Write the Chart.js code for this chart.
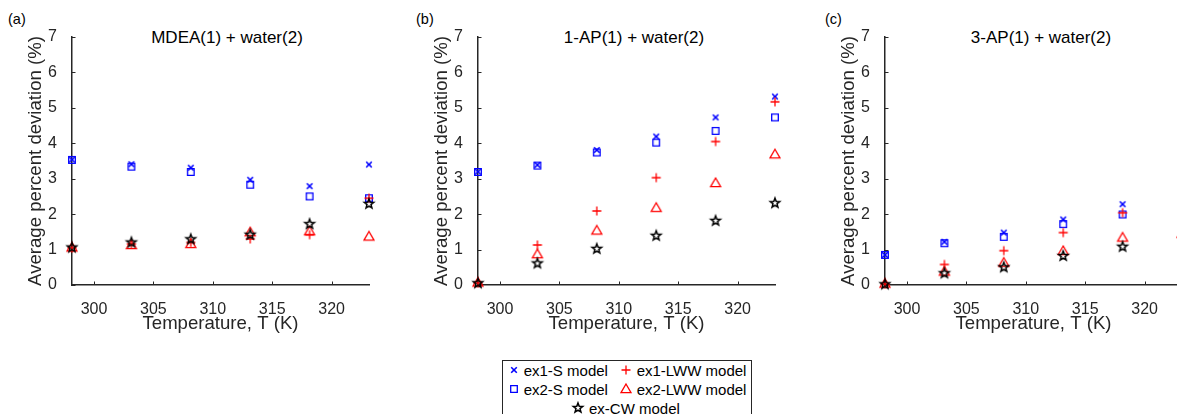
<!DOCTYPE html>
<html><head><meta charset="utf-8">
<script src="https://cdn.jsdelivr.net/npm/chart.js@4/dist/chart.umd.min.js"></script>
<style>
html,body{margin:0;padding:0;width:1177px;height:414px;overflow:hidden;background:#fff;font-family:"Liberation Sans",Arial,sans-serif;}
canvas.panel{position:absolute;top:0;}
.lbl{position:absolute;font-size:14.5px;color:#000;transform:translateY(-50%);white-space:nowrap;}
.ttl{position:absolute;font-size:17px;color:#000;transform:translate(-50%,-50%);white-space:nowrap;}
#legend{position:absolute;left:502px;top:360px;width:248px;height:70px;border:1px solid #262626;background:#fff;}
.li{position:absolute;font-size:15px;color:#000;white-space:nowrap;transform:translateY(-50%);}
.lm{position:absolute;transform:translate(-50%,-50%);}
</style></head>
<body>
<div class="lbl" style="left:8px;top:19px">(a)</div>
<div class="lbl" style="left:416px;top:19px">(b)</div>
<div class="lbl" style="left:825px;top:19px">(c)</div>
<div class="ttl" style="left:227px;top:38px">MDEA(1) + water(2)</div>
<div class="ttl" style="left:634px;top:38px">1-AP(1) + water(2)</div>
<div class="ttl" style="left:1041px;top:38px">3-AP(1) + water(2)</div>
<canvas id="ca" class="panel" width="390" height="340" style="left:0px"></canvas>
<canvas id="cb" class="panel" width="390" height="340" style="left:406px"></canvas>
<canvas id="cc" class="panel" width="390" height="340" style="left:813px"></canvas>
<div id="legend"></div>
<script>
// ---- data ----
const temps = [298.15, 303.15, 308.15, 313.15, 318.15, 323.15];
const xTicks = [300, 305, 310, 315, 320];
const yTicks = [0, 1, 2, 3, 4, 5, 6, 7];
const seriesNames = ['ex1-S model', 'ex2-S model', 'ex1-LWW model', 'ex2-LWW model', 'ex-CW model'];

// (a) MDEA(1) + water(2)
const a_ex1S  = [3.54, 3.41, 3.31, 2.97, 2.79, 3.40];
const a_ex2S  = [3.53, 3.34, 3.19, 2.83, 2.50, 2.45];
const a_ex1L  = [1.05, 1.16, 1.20, 1.30, 1.42, 2.45];
const a_ex2L  = [1.06, 1.13, 1.16, 1.49, 1.52, 1.37];
const a_exCW  = [1.06, 1.20, 1.29, 1.42, 1.72, 2.29];

// (b) 1-AP(1) + water(2)
const b_ex1S  = [3.20, 3.39, 3.81, 4.19, 4.73, 5.32];
const b_ex2S  = [3.19, 3.37, 3.74, 4.02, 4.35, 4.73];
const b_ex1L  = [0.06, 1.13, 2.09, 3.03, 4.05, 5.17];
const b_ex2L  = [0.07, 0.87, 1.54, 2.18, 2.88, 3.69];
const b_exCW  = [0.05, 0.61, 1.02, 1.39, 1.81, 2.31];

// (c) 3-AP(1) + water(2)
const c_ex1S  = [0.85, 1.22, 1.48, 1.85, 2.28, null];
const c_ex2S  = [0.85, 1.18, 1.36, 1.72, 1.99, null];
const c_ex1L  = [0.03, 0.58, 0.97, 1.48, 2.04, 1.57];
const c_ex2L  = [0.04, 0.38, 0.63, 0.96, 1.34, 1.45];
const c_exCW  = [0.02, 0.33, 0.50, 0.82, 1.08, null];

// ---- styling ----
const AX = '#262626';
const F = '"Liberation Sans", Arial, sans-serif';
const markerTypes = ['x', 'sq', '+', 'tri', 'star'];
const markerColors = ['#0000ff', '#0000ff', '#ff0000', '#ff0000', '#000000'];
const drawOrder = [5, 4, 3, 2, 1];

function makeMarker(type, color) {
  const c = document.createElement('canvas');
  c.width = 16; c.height = 16;
  const g = c.getContext('2d');
  g.strokeStyle = color; g.lineWidth = 1.3;
  g.translate(8, 8);
  g.beginPath();
  if (type === 'x') {
    g.lineWidth = 1.6;
    g.moveTo(-2.8, -2.8); g.lineTo(2.8, 2.8);
    g.moveTo(2.8, -2.8); g.lineTo(-2.8, 2.8);
  } else if (type === '+') {
    g.moveTo(-4.5, 0); g.lineTo(4.5, 0);
    g.moveTo(0, -4.5); g.lineTo(0, 4.5);
  } else if (type === 'sq') {
    g.rect(-3.3, -3.3, 6.6, 6.6);
  } else if (type === 'tri') {
    g.moveTo(0, -5); g.lineTo(5, 3.6); g.lineTo(-5, 3.6); g.closePath();
  } else if (type === 'star') {
    g.lineWidth = 1.5;
    for (let i = 0; i < 10; i++) {
      const r = i % 2 ? 2.1 : 5;
      const ang = -Math.PI / 2 + i * Math.PI / 5;
      const px = r * Math.cos(ang), py = r * Math.sin(ang);
      if (i) g.lineTo(px, py); else g.moveTo(px, py);
    }
    g.closePath();
  }
  g.stroke();
  return c;
}

const inTicks = {
  id: 'inTicks',
  beforeDatasetsDraw(chart) {
    const {ctx, chartArea, scales} = chart;
    ctx.save();
    ctx.strokeStyle = AX; ctx.lineWidth = 1;
    ctx.beginPath();
    xTicks.forEach(v => {
      const px = Math.round(scales.x.getPixelForValue(v)) + 0.5;
      ctx.moveTo(px, chartArea.bottom); ctx.lineTo(px, chartArea.bottom - 3.5);
    });
    yTicks.forEach(v => {
      const py = Math.round(scales.y.getPixelForValue(v)) + 0.5;
      ctx.moveTo(chartArea.left, py); ctx.lineTo(chartArea.left + 3.5, py);
    });
    ctx.stroke();
    ctx.restore();
  }
};

function makeChart(id, series) {
  const datasets = series.map((arr, k) => ({
    label: seriesNames[k],
    data: temps.map((t, i) => ({x: t, y: arr[i]})),
    pointStyle: makeMarker(markerTypes[k], markerColors[k]),
    pointRadius: 5,
    showLine: false,
    clip: false,
    order: drawOrder[k]
  }));
  new Chart(document.getElementById(id), {
    type: 'scatter',
    data: {datasets},
    options: {
      responsive: false, animation: false, devicePixelRatio: 1,
      layout: {padding: {top: 37, right: 21, left: 0, bottom: 0}},
      plugins: {legend: {display: false}, tooltip: {enabled: false}},
      scales: {
        x: {
          type: 'linear', min: 298.15, max: 323.15,
          afterBuildTicks: s => { s.ticks = xTicks.map(v => ({value: v})); },
          afterFit: s => { s.height = 55; },
          grid: {display: false},
          border: {display: true, color: AX, width: 1.5},
          ticks: {font: {size: 16, family: F}, color: AX, padding: 7, callback: v => String(v)},
          title: {display: true, text: 'Temperature, T (K)', font: {size: 18.6, family: F}, color: AX, padding: {top: 5, bottom: 5}}
        },
        y: {
          type: 'linear', min: 0, max: 7,
          afterBuildTicks: s => { s.ticks = yTicks.map(v => ({value: v})); },
          afterFit: s => { s.width = 72; },
          grid: {display: false},
          border: {display: true, color: AX, width: 1.5},
          ticks: {font: {size: 16, family: F}, color: AX, padding: 7, callback: v => String(v)},
          title: {display: true, text: 'Average percent deviation (%)', font: {size: 18.6, family: F}, color: AX, padding: {top: 25, bottom: 25}}
        }
      }
    },
    plugins: [inTicks]
  });
}

makeChart('ca', [a_ex1S, a_ex2S, a_ex1L, a_ex2L, a_exCW]);
makeChart('cb', [b_ex1S, b_ex2S, b_ex1L, b_ex2L, b_exCW]);
makeChart('cc', [c_ex1S, c_ex2S, c_ex1L, c_ex2L, c_exCW]);

// ---- legend ----
const legend = document.getElementById('legend');
const legendPos = [ // marker x, text x, row y (relative to legend box)
  [10.7, 20.7, 8.5], [10.7, 20.7, 27.5], [123, 133.7, 8.5], [123, 133.7, 27.5], [75.3, 86, 46.5]
];
seriesNames.forEach((name, k) => {
  const [mx, tx, ry] = legendPos[k];
  const m = makeMarker(markerTypes[k], markerColors[k]);
  m.className = 'lm'; m.style.left = mx + 'px'; m.style.top = ry + 'px';
  legend.appendChild(m);
  const t = document.createElement('div');
  t.className = 'li'; t.textContent = name;
  t.style.left = tx + 'px'; t.style.top = ry + 'px';
  legend.appendChild(t);
});
</script>
</body></html>
